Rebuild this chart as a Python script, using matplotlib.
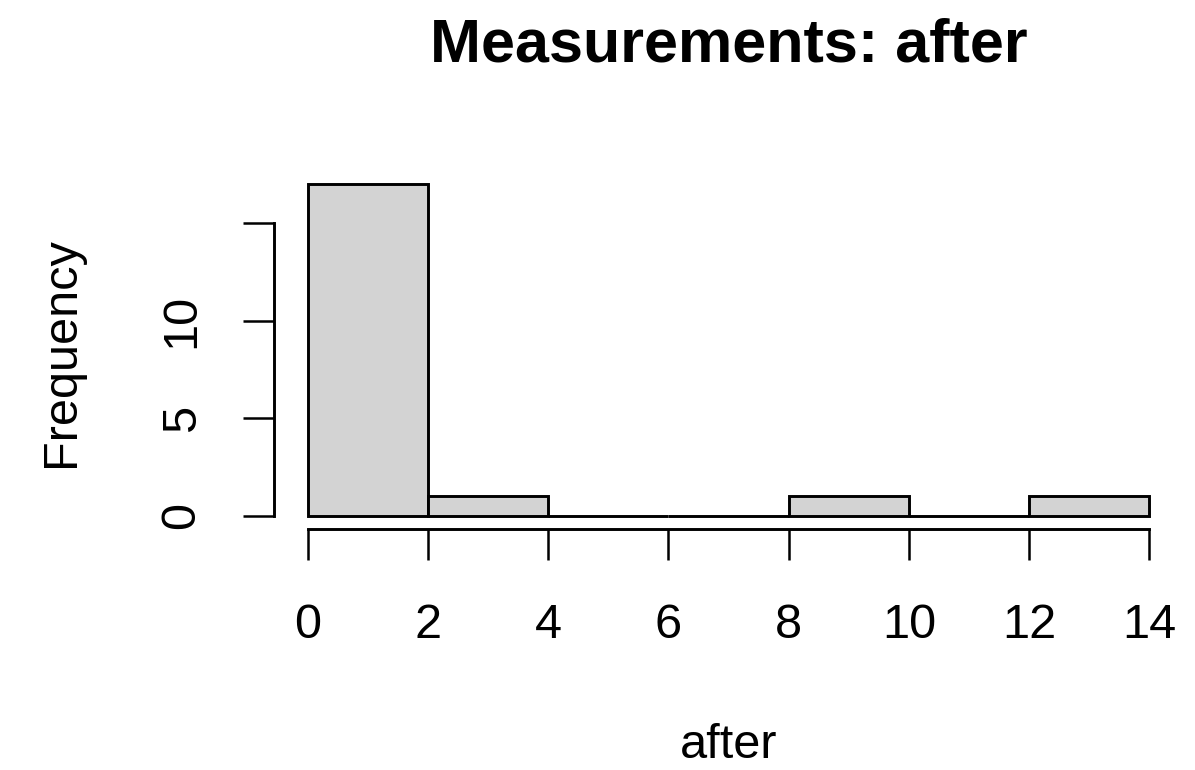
import matplotlib.pyplot as plt
import numpy as np

plt.rcParams['font.family'] = ['Liberation Sans', 'DejaVu Sans']

bin_edges = [0, 2, 4, 6, 8, 10, 12, 14]
counts = [17, 1, 0, 0, 1, 0, 1]
x_ticks = [0, 2, 4, 6, 8, 10, 12, 14]
y_ticks = [0, 5, 10, 15]
y_tick_labels = ['0', '5', '10', '']   # R drops the "15" label (overlap)

W, H = 1195, 770
fig = plt.figure(figsize=(W / 100, H / 100), dpi=100)
# plot region in pixels (R-style margins)
left, right, top, bottom = 274, 1183, 171, 529
ax = fig.add_axes([left / W, 1 - bottom / H, (right - left) / W, (bottom - top) / H])

edges = np.array(bin_edges)
ax.bar(edges[:-1], counts, width=np.diff(edges), align='edge',
       color='#D3D3D3', edgecolor='black', linewidth=2.1)

# R extends the range by 4% on each side
xr = edges[-1] - edges[0]
ax.set_xlim(edges[0] - 0.04 * xr, edges[-1] + 0.04 * xr)
ymax = max(counts)
ax.set_ylim(-0.04 * ymax, ymax * 1.04)

for s in ['top', 'right']:
    ax.spines[s].set_visible(False)
ax.spines['bottom'].set_bounds(x_ticks[0], x_ticks[-1])
ax.spines['left'].set_bounds(y_ticks[0], y_ticks[-1])
ax.spines['bottom'].set_linewidth(2.1)
ax.spines['left'].set_linewidth(2.1)

ax.set_xticks(x_ticks)
ax.set_yticks(y_ticks)
ax.set_yticklabels(y_tick_labels, rotation=90, va='center')
ax.tick_params(axis='both', length=22, width=1.8, labelsize=35)
ax.tick_params(axis='x', pad=31)
ax.tick_params(axis='y', pad=28)

fig.text((left + right) / 2 / W, 1 - 46 / H, 'Measurements: after',
         ha='center', va='center', fontsize=44, fontweight='bold')
fig.text((left + right) / 2 / W, 1 - 745 / H, 'after',
         ha='center', va='center', fontsize=35)
fig.text(62 / W, 1 - 352 / H, 'Frequency', rotation=90,
         ha='center', va='center', fontsize=35)

plt.savefig('out.png', dpi=100)
